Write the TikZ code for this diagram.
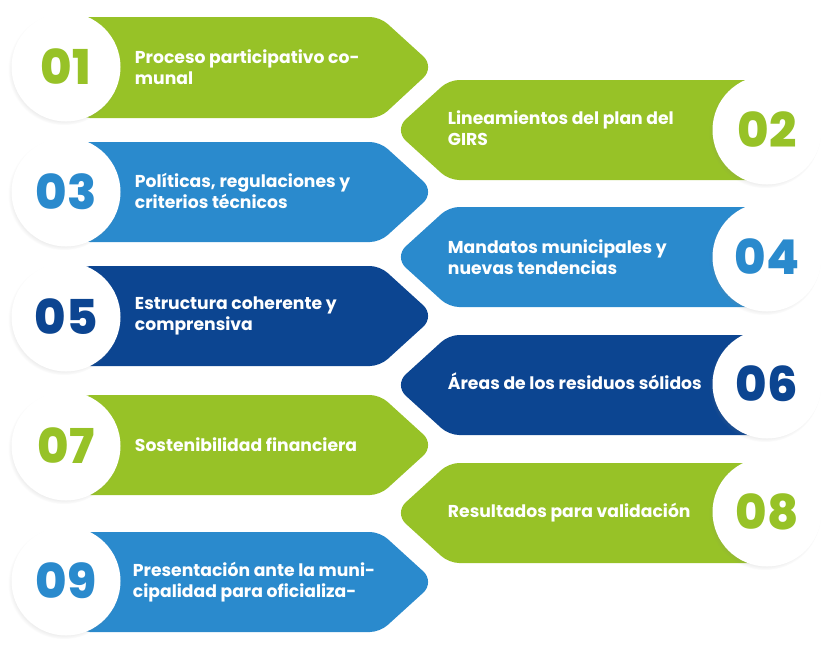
\documentclass[tikz,border=0pt]{standalone}
\usepackage{fontspec}
\setmainfont{Poppins}
\newfontfamily\numfont{Poppins}[UprightFont={* ExtraBold}]
\usepackage{tikz}
\usetikzlibrary{positioning}
\usetikzlibrary{shadows}

\definecolor{bandgreen}{RGB}{151,194,39}
\definecolor{bandblue}{RGB}{42,138,205}
\definecolor{banddark}{RGB}{12,69,145}

\begin{document}
\begin{tikzpicture}[x=1pt,y=1pt,yscale=-1,xscale=1,
  band/.style={rounded corners=10pt},
  numdisc/.style={circle,fill=white,minimum size=109pt,inner sep=0pt,
    circular drop shadow={shadow xshift=-2pt,shadow yshift=-2pt,shadow scale=1.03,opacity=0.25},
    font=\numfont\fontsize{48}{48}\selectfont},
  bandtext/.style={anchor=west,align=left,text=white,inner sep=0.75pt,
    font=\bfseries\fontsize{17.2}{21}\selectfont}]
\useasboundingbox (0,0) rectangle (836,645); %picture is 836 by 645

%Shape: banner 01
\draw [band,fill=bandgreen,draw=none] (80,17) -- (380,17) [rounded corners=16pt] -- (435,67) [rounded corners=10pt] -- (380,118) -- (80,118) -- cycle ;
%Shape: banner 02
\draw [band,fill=bandgreen,draw=none] (760,80) -- (449,80) [rounded corners=16pt] -- (394,130) [rounded corners=10pt] -- (449,180) -- (760,180) -- cycle ;
%Shape: banner 03
\draw [band,fill=bandblue,draw=none] (80,142) -- (380,142) [rounded corners=16pt] -- (435,192) [rounded corners=10pt] -- (380,242) -- (80,242) -- cycle ;
%Shape: banner 04
\draw [band,fill=bandblue,draw=none] (760,207) -- (449,207) [rounded corners=16pt] -- (394,257) [rounded corners=10pt] -- (449,307) -- (760,307) -- cycle ;
%Shape: banner 05
\draw [band,fill=banddark,draw=none] (80,266) -- (380,266) [rounded corners=16pt] -- (435,316) [rounded corners=10pt] -- (380,366) -- (80,366) -- cycle ;
%Shape: banner 06
\draw [band,fill=banddark,draw=none] (760,335) -- (449,335) [rounded corners=16pt] -- (394,385) [rounded corners=10pt] -- (449,435) -- (760,435) -- cycle ;
%Shape: banner 07
\draw [band,fill=bandgreen,draw=none] (80,395) -- (380,395) [rounded corners=16pt] -- (435,445) [rounded corners=10pt] -- (380,495) -- (80,495) -- cycle ;
%Shape: banner 08
\draw [band,fill=bandgreen,draw=none] (760,463) -- (449,463) [rounded corners=16pt] -- (394,513) [rounded corners=10pt] -- (449,563) -- (760,563) -- cycle ;
%Shape: banner 09
\draw [band,fill=bandblue,draw=none] (80,532) -- (380,532) [rounded corners=16pt] -- (435,582) [rounded corners=10pt] -- (380,632) -- (80,632) -- cycle ;

%Shape: Circle 01..09
\node [numdisc,text=bandgreen] (c01) at (66,67) {01};
\node [numdisc,text=bandgreen] (c02) at (767,130) {02};
\node [numdisc,text=bandblue] (c03) at (66,192) {03};
\node [numdisc,text=bandblue] (c04) at (767,257) {04};
\node [numdisc,text=banddark] (c05) at (66,317) {05};
\node [numdisc,text=banddark] (c06) at (767,384) {06};
\node [numdisc,text=bandgreen] (c07) at (66,446) {07};
\node [numdisc,text=bandgreen] (c08) at (767,512) {08};
\node [numdisc,text=bandblue] (c09) at (66,581) {09};

% Text Node
\node [bandtext] (t01) at (134,67) {Proceso participativo co-\\munal};
% Text Node
\node [bandtext] (t02) at (447,128) {Lineamientos del plan del\\GIRS};
% Text Node
\node [bandtext] (t03) at (134,191) {Políticas, regulaciones y\\criterios técnicos};
% Text Node
\node [bandtext] (t04) at (447,257) {Mandatos municipales y\\nuevas tendencias};
% Text Node
\node [bandtext] (t05) at (134,316) {Estructura coherente y\\comprensiva};
% Text Node
\node [bandtext] (t06) at (447,381) {Áreas de los residuos sólidos};
% Text Node
\node [bandtext] (t07) at (134,445) {Sostenibilidad financiera};
% Text Node
\node [bandtext] (t08) at (447,513) {Resultados para validación};
% Text Node
\node [bandtext] (t09) at (132,582) {Presentación ante la muni-\\cipalidad para oficializa-};

\end{tikzpicture}
\end{document}
